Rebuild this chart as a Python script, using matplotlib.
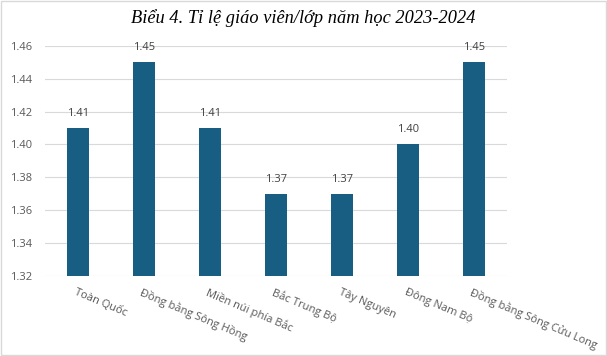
import matplotlib
matplotlib.use("Agg")
import matplotlib.pyplot as plt
import matplotlib.transforms as mtransforms
from matplotlib.patches import Rectangle

regions = ["Toàn Quốc", "Đồng bằng Sông Hồng", "Miền núi phía Bắc", "Bắc Trung Bộ",
           "Tây Nguyên", "Đông Nam Bộ", "Đồng bằng Sông Cửu Long"]
ratios = [1.41, 1.45, 1.41, 1.37, 1.37, 1.40, 1.45]
yticks = [1.32, 1.34, 1.36, 1.38, 1.40, 1.42, 1.44, 1.46]

bar_color = "#175e82"
txt_color = "#595959"

fig = plt.figure(figsize=(6.07, 3.56), dpi=100)
fig.patches.append(Rectangle((0.002, 0.003), 0.996, 0.994, transform=fig.transFigure,
                             fill=False, edgecolor="#d9d9d9", linewidth=1))
ax = fig.add_axes([0.074, 0.225, 0.761, 0.646])

x = list(range(len(regions)))
bars = ax.bar(x, [r - 1.32 for r in ratios], bottom=1.32, width=0.34, color=bar_color, zorder=3)
for xi, r in zip(x, ratios):
    ax.text(xi, r + 0.0055, f"{r:.2f}", ha="center", va="bottom",
            fontsize=8, color="#404040", family="Open Sans")

ax.set_xlim(-0.5, len(regions) - 0.5)
ax.set_ylim(1.32, 1.46)
ax.set_yticks(yticks)
ax.set_yticklabels([f"{t:.2f}" for t in yticks], fontsize=8, color=txt_color, family="Open Sans")
ax.grid(axis="y", color="#d9d9d9", linewidth=0.8, zorder=0)
ax.tick_params(axis="y", length=0, pad=9)
ax.tick_params(axis="x", length=0)
ax.set_xticks(x)
ax.set_xticklabels([])
for s in ax.spines.values():
    s.set_visible(False)

offset = mtransforms.ScaledTranslation(-1 / 100, -11 / 100, fig.dpi_scale_trans)
for xi, lab in zip(x, regions):
    ax.text(xi, 1.32, lab, rotation=-23, rotation_mode="anchor", ha="left", va="top",
            fontsize=8, color=txt_color, family="Open Sans",
            transform=ax.transData + offset)

fig.text(0.5, 0.948, "Biểu 4. Tỉ lệ giáo viên/lớp năm học 2023-2024", ha="center", va="center",
         fontsize=13.2, style="italic", family="Liberation Serif", color="#000000")

fig.savefig("out.png", dpi=100)
